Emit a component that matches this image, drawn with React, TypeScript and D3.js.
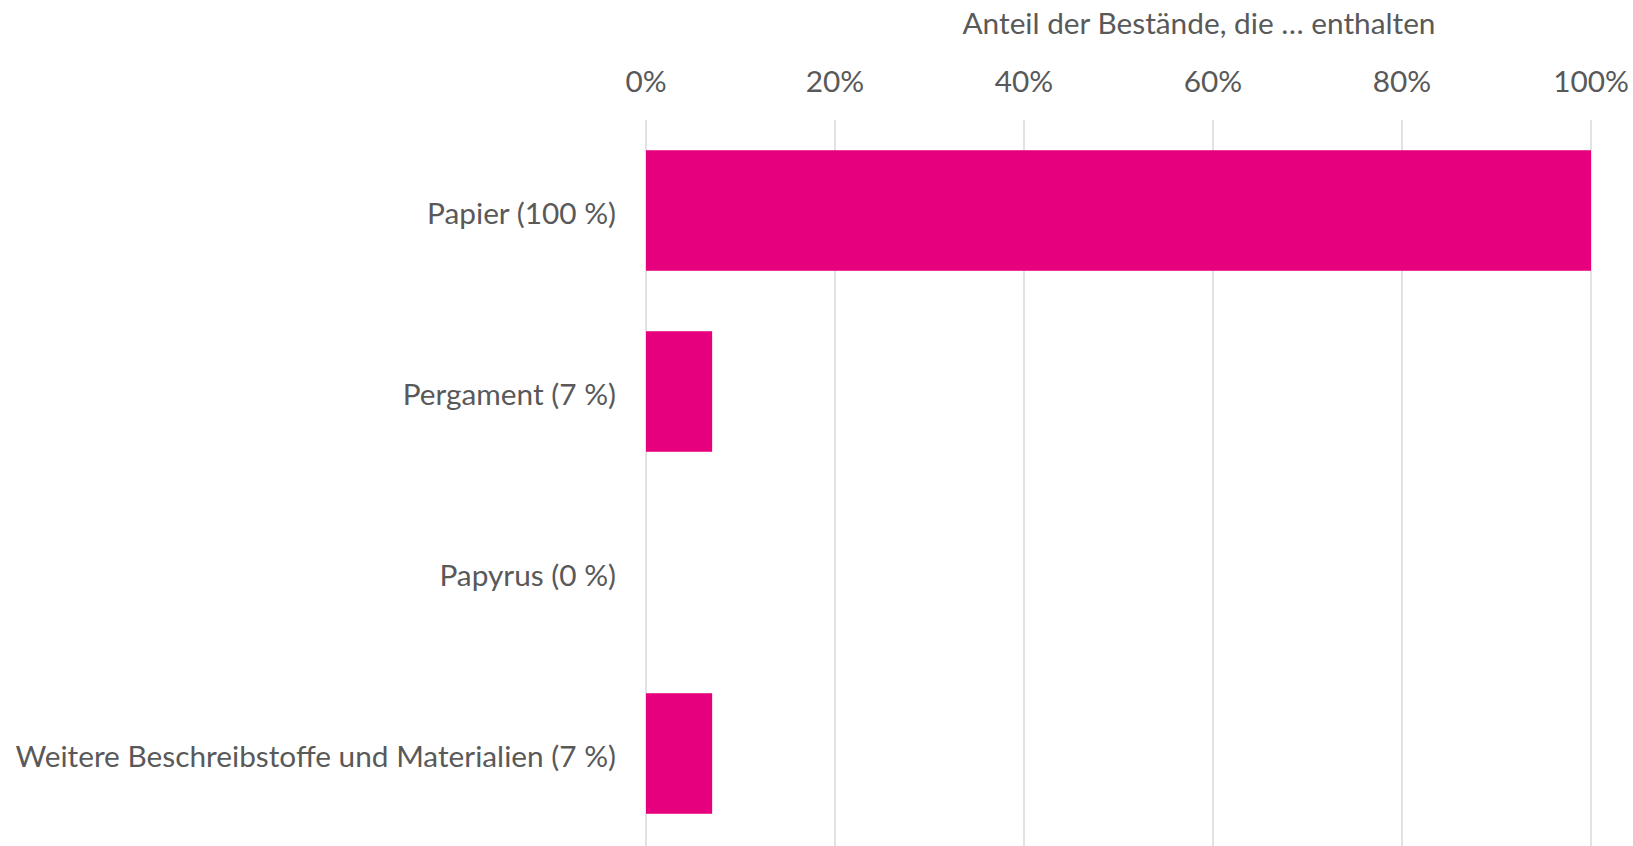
import React from "react";
import * as d3 from "d3";

const categories = [
  "Papier (100 %)",
  "Pergament (7 %)",
  "Papyrus (0 %)",
  "Weitere Beschreibstoffe und Materialien (7 %)",
];
const values = [100, 7, 0, 7];
const tickValues = [0, 20, 40, 60, 80, 100];
const axisTitle = "Anteil der Bestände, die … enthalten";

const W = 1633;
const H = 846;
const FONT = "Lato, 'Open Sans', sans-serif";
const FS = 29.8;
const TEXT = "#595959";
const BAR = "#E6007E";
const GRID = "#D9D9D9";

export default function App() {
  const x = d3.scaleLinear().domain([0, 100]).range([646, 1591]);
  const y = d3
    .scaleBand<string>()
    .domain(categories)
    .range([120, 844])
    .paddingInner(0.334)
    .paddingOuter(0.167);

  return (
    <svg
      width={W}
      height={H}
      style={{ position: "absolute", left: 0, top: 0, background: "#fff" }}
      fontFamily={FONT}
    >
      {tickValues.map((t) => (
        <line
          key={"g" + t}
          x1={x(t)}
          x2={x(t)}
          y1={120}
          y2={846}
          stroke={GRID}
          strokeWidth={1.5}
        />
      ))}
      {categories.map((c, i) => (
        <rect
          key={c}
          x={x(0)}
          y={y(c)}
          width={x(values[i]) - x(0)}
          height={y.bandwidth()}
          fill={BAR}
        />
      ))}
      {tickValues.map((t) => (
        <text
          key={"t" + t}
          x={x(t)}
          y={92}
          textAnchor="middle"
          fontSize={FS}
          fill={TEXT}
        >
          {t + "%"}
        </text>
      ))}
      {categories.map((c) => (
        <text
          key={"l" + c}
          x={616}
          y={(y(c) as number) + y.bandwidth() / 2 + 3}
          dy="0.35em"
          textAnchor="end"
          fontSize={FS}
          fill={TEXT}
        >
          {c}
        </text>
      ))}
      <text x={1199} y={34} textAnchor="middle" fontSize={FS} fill={TEXT}>
        {axisTitle}
      </text>
    </svg>
  );
}
